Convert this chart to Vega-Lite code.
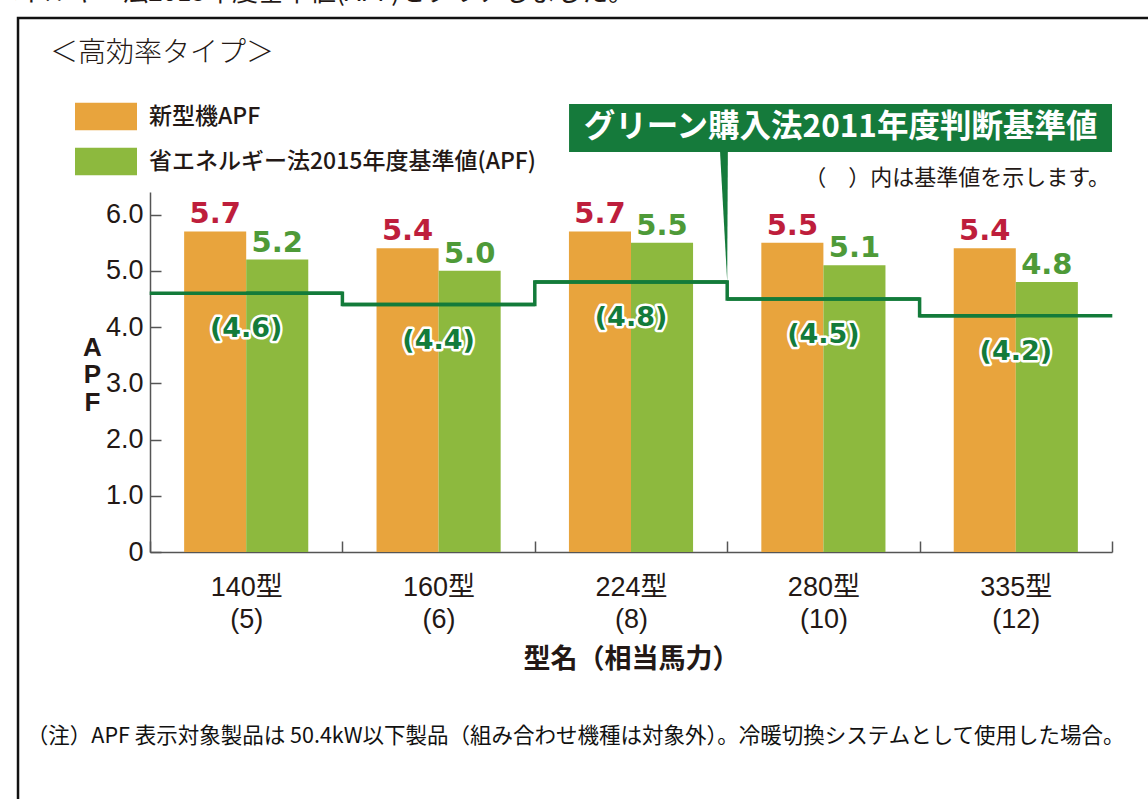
{
  "$schema": "https://vega.github.io/schema/vega-lite/v6.json",
  "width": 962,
  "height": 360,
  "autosize": {"type": "none"},
  "padding": {"left": 150, "top": 192, "right": 36, "bottom": 247},
  "background": "#ffffff",
  "config": {"view": {"stroke": null}, "font": "Noto Sans CJK JP"},
  "datasets": {
    "apf": [
      {"model": "140型 (5)", "new": 5.7, "std2015": 5.2, "green2011": 4.6},
      {"model": "160型 (6)", "new": 5.4, "std2015": 5.0, "green2011": 4.4},
      {"model": "224型 (8)", "new": 5.7, "std2015": 5.5, "green2011": 4.8},
      {"model": "280型 (10)", "new": 5.5, "std2015": 5.1, "green2011": 4.5},
      {"model": "335型 (12)", "new": 5.4, "std2015": 4.8, "green2011": 4.2}
    ]
  },
  "layer": [
    {
      "data": {"name": "apf"},
      "transform": [{"fold": ["new", "std2015", "green2011"], "as": ["series", "apf"]}],
      "encoding": {
        "x": {
          "field": "model", "type": "nominal", "sort": null,
          "scale": {"paddingInner": 0, "paddingOuter": 0},
          "axis": {
            "title": "型名（相当馬力）",
            "titleFont": "Noto Sans CJK JP", "titleFontWeight": "bold", "titleFontSize": 27,
            "titleColor": "#231815", "titlePadding": 14,
            "labelExpr": "split(datum.label, ' ')",
            "labelFont": "Liberation Sans, Noto Sans CJK JP", "labelFontSize": 27,
            "labelColor": "#231815", "labelLineHeight": 32, "labelPadding": 33,
            "labelAngle": 0,
            "tickBand": "extent", "tickSize": -11, "tickColor": "#555555", "tickWidth": 1.5,
            "domainColor": "#555555", "domainWidth": 1.5, "grid": false
          }
        },
        "y": {
          "field": "apf", "type": "quantitative",
          "scale": {"domain": [0, 6.4], "nice": false, "zero": true},
          "axis": {
            "title": ["A", "P", "F"], "titleAngle": 0, "titleX": -58, "titleY": 142,
            "titleAlign": "center", "titleBaseline": "top",
            "titleFont": "Liberation Sans", "titleFontWeight": "bold", "titleFontSize": 26,
            "titleLineHeight": 27.5, "titleColor": "#231815",
            "values": [0, 1, 2, 3, 4, 5, 6],
            "labelExpr": "datum.value === 0 ? '0' : format(datum.value, '.1f')",
            "labelFont": "Liberation Sans Narrow, Liberation Sans", "labelFontSize": 27,
            "labelColor": "#231815", "labelPadding": 18,
            "tickSize": -11, "tickColor": "#555555", "tickWidth": 1.5,
            "domainColor": "#555555", "domainWidth": 1.5, "grid": false
          }
        }
      },
      "layer": [
        {
          "transform": [{"filter": "datum.series !== 'green2011'"}],
          "mark": {"type": "bar"},
          "encoding": {
            "xOffset": {"field": "series", "type": "nominal", "scale": {"domain": ["new", "std2015"], "paddingInner": 0, "paddingOuter": 0.55}},
            "color": {
              "field": "series", "type": "nominal",
              "scale": {"domain": ["new", "std2015"], "range": ["#E8A43D", "#8DB93E"]},
              "legend": {
                "orient": "none", "legendX": -75, "legendY": -106.5, "title": null,
                "labelExpr": "datum.label === 'new' ? '新型機APF' : '省エネルギー法2015年度基準値(APF)'",
                "symbolType": "M-1,-0.44H1V0.44H-1Z", "symbolSize": 3844,
                "symbolStrokeWidth": 0, "symbolOpacity": 1,
                "labelFont": "Noto Sans CJK JP", "labelFontSize": 23, "labelFontWeight": 500, "labelColor": "#231815",
                "labelOffset": 12, "rowPadding": -22, "padding": 0, "labelLimit": 700
              }
            }
          }
        },
        {
          "transform": [{"filter": "datum.series !== 'green2011'"}],
          "mark": {"type": "text", "baseline": "alphabetic", "dy": -8, "font": "DejaVu Sans", "fontWeight": "bold", "fontSize": 29},
          "encoding": {
            "xOffset": {"field": "series", "type": "nominal", "scale": {"domain": ["new", "std2015"], "paddingInner": 0, "paddingOuter": 0.55}},
            "text": {"field": "apf", "type": "quantitative", "format": ".1f"},
            "color": {"condition": {"test": "datum.series === 'new'", "value": "#BE1E3C"}, "value": "#4E9A38"}
          }
        },
        {
          "transform": [{"filter": "datum.series === 'green2011'"}],
          "mark": {"type": "tick", "size": 193, "thickness": 3.5, "color": "#137B3A", "opacity": 1},
          "encoding": {}
        },
        {
          "transform": [{"filter": "datum.series === 'green2011'"}],
          "mark": {"type": "line", "interpolate": "step", "strokeWidth": 3.5, "color": "#137B3A"},
          "encoding": {}
        },
        {
          "transform": [
            {"filter": "datum.series === 'green2011'"},
            {"calculate": "'(' + format(datum.apf, '.1f') + ')'", "as": "stdLabel"}
          ],
          "mark": {"type": "text", "baseline": "middle", "dy": 36, "font": "DejaVu Sans", "fontWeight": "bold", "fontSize": 27, "stroke": "#ffffff", "strokeWidth": 5, "fill": "#ffffff", "strokeJoin": "round"},
          "encoding": {"text": {"field": "stdLabel"}}
        },
        {
          "transform": [
            {"filter": "datum.series === 'green2011'"},
            {"calculate": "'(' + format(datum.apf, '.1f') + ')'", "as": "stdLabel"}
          ],
          "mark": {"type": "text", "baseline": "middle", "dy": 36, "font": "DejaVu Sans", "fontWeight": "bold", "fontSize": 27, "fill": "#137B3A"},
          "encoding": {"text": {"field": "stdLabel"}}
        }
      ]
    },
    {
      "data": {"values": [{}]},
      "layer": [
        {
          "mark": {"type": "rect", "fillOpacity": 0, "stroke": "#111111", "strokeWidth": 2.5},
          "encoding": {
            "x": {"datum": -0.686, "type": "quantitative", "scale": {"domain": [0, 5], "nice": false, "zero": false}, "axis": null},
            "x2": {"datum": 6},
            "y": {"datum": 9.493, "type": "quantitative", "scale": {"domain": [0, 6.4], "nice": false, "zero": false}, "axis": null},
            "y2": {"datum": -6}
          }
        },
        {
          "mark": {"type": "rect", "fill": "#157A3B"},
          "encoding": {
            "x": {"datum": 2.178, "type": "quantitative", "scale": {"domain": [0, 5], "nice": false, "zero": false}, "axis": null},
            "x2": {"datum": 5.0},
            "y": {"datum": 7.964, "type": "quantitative", "scale": {"domain": [0, 6.4], "nice": false, "zero": false}, "axis": null},
            "y2": {"datum": 7.111}
          }
        },
        {
          "mark": {"type": "point", "filled": true, "shape": "M -0.11 -1 L 0.01 -1 L 0 1 Z", "size": 16900, "fill": "#157A3B", "strokeWidth": 0, "opacity": 1},
          "encoding": {
            "x": {"datum": 3.0, "type": "quantitative", "scale": {"domain": [0, 5], "nice": false, "zero": false}, "axis": null},
            "y": {"datum": 5.956, "type": "quantitative", "scale": {"domain": [0, 6.4], "nice": false, "zero": false}, "axis": null}
          }
        },
        {
          "mark": {"type": "text", "text": "グリーン購入法2011年度判断基準値", "font": "Noto Sans CJK JP", "fontWeight": "bold", "fontSize": 31.5, "fill": "#ffffff", "align": "center", "baseline": "middle"},
          "encoding": {
            "x": {"datum": 3.589, "type": "quantitative", "scale": {"domain": [0, 5], "nice": false, "zero": false}, "axis": null},
            "y": {"datum": 7.538, "type": "quantitative", "scale": {"domain": [0, 6.4], "nice": false, "zero": false}, "axis": null}
          }
        },
        {
          "mark": {"type": "text", "text": "（　）内は基準値を示します。", "font": "Noto Sans CJK JP", "fontSize": 22, "fill": "#231815", "align": "right", "baseline": "middle"},
          "encoding": {
            "x": {"datum": 4.99, "type": "quantitative", "scale": {"domain": [0, 5], "nice": false, "zero": false}, "axis": null},
            "y": {"datum": 6.649, "type": "quantitative", "scale": {"domain": [0, 6.4], "nice": false, "zero": false}, "axis": null}
          }
        },
        {
          "mark": {"type": "text", "text": "＜高効率タイプ＞", "font": "Noto Sans CJK JP", "fontWeight": 300, "fontSize": 28, "fill": "#231815", "align": "left", "baseline": "middle"},
          "encoding": {
            "x": {"datum": -0.52, "type": "quantitative", "scale": {"domain": [0, 5], "nice": false, "zero": false}, "axis": null},
            "y": {"datum": 8.85, "type": "quantitative", "scale": {"domain": [0, 6.4], "nice": false, "zero": false}, "axis": null}
          }
        },
        {
          "mark": {"type": "text", "text": "（注）APF 表示対象製品は 50.4kW以下製品（組み合わせ機種は対象外）。冷暖切換システムとして使用した場合。", "font": "Noto Sans CJK JP", "fontSize": 21.5, "fill": "#111111", "align": "left", "baseline": "middle"},
          "encoding": {
            "x": {"datum": -0.64, "type": "quantitative", "scale": {"domain": [0, 5], "nice": false, "zero": false}, "axis": null},
            "y": {"datum": -3.289, "type": "quantitative", "scale": {"domain": [0, 6.4], "nice": false, "zero": false}, "axis": null}
          }
        },
        {
          "mark": {"type": "text", "text": "省エネルギー法2015年度基準値(APF)をクリアしました。", "font": "Noto Sans CJK JP", "fontSize": 26, "fill": "#231815", "align": "right", "baseline": "alphabetic"},
          "encoding": {
            "x": {"datum": 2.516, "type": "quantitative", "scale": {"domain": [0, 5], "nice": false, "zero": false}, "axis": null},
            "y": {"datum": 9.8, "type": "quantitative", "scale": {"domain": [0, 6.4], "nice": false, "zero": false}, "axis": null}
          }
        }
      ]
    }
  ],
  "resolve": {"scale": {"x": "independent", "y": "independent", "color": "independent"}}
}
